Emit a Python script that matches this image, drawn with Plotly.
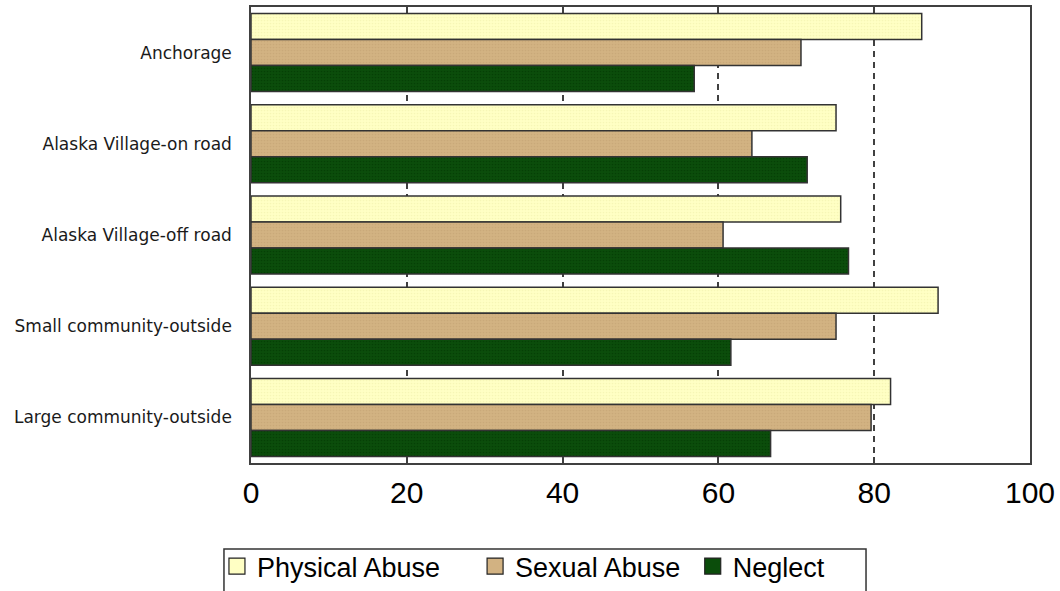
import plotly.graph_objects as go

categories = ["Anchorage", "Alaska Village-on road", "Alaska Village-off road",
              "Small community-outside", "Large community-outside"]
physical = [86.1, 75.1, 75.7, 88.2, 82.1]
sexual = [70.6, 64.3, 60.6, 75.1, 79.6]
neglect = [56.9, 71.4, 76.7, 61.6, 66.7]
x_ticks = [0, 20, 40, 60, 80, 100]
legend_names = ["Physical Abuse", "Sexual Abuse", "Neglect"]
legend_pad = [4, 1, 0]

series = [
    (physical, "#FFFFC4", "#EDEDA8"),
    (sexual, "#D2B282", "#BFA070"),
    (neglect, "#0B4D0B", "#003300"),
]

fig = go.Figure()
for name, (vals, col, dot) in zip(legend_names, series):
    fig.add_trace(go.Bar(
        y=categories, x=vals, name=name, orientation="h", showlegend=False,
        marker=dict(color=col, line=dict(color="#333333", width=1.5),
                    pattern=dict(shape=".", size=3, solidity=0.25, fgcolor=dot)),
    ))
# legend entries with larger square swatches
for name, pad, (vals, col, dot) in zip(legend_names, legend_pad, series):
    fig.add_trace(go.Scatter(
        x=[None], y=[None], mode="markers", name=name + "\u00a0" * pad,
        marker=dict(symbol="square", size=16, color=col,
                    line=dict(color="#222222", width=1.2)),
    ))

fig.update_layout(
    width=1060, height=591,
    margin=dict(l=251, r=30, t=7, b=128, autoexpand=False),
    paper_bgcolor="white", plot_bgcolor="white",
    barmode="group", bargap=0.145, bargroupgap=0,
    showlegend=True,
    legend=dict(
        orientation="h", x=-0.0437, y=-0.2807, xanchor="left", yanchor="bottom",
        font=dict(family="Liberation Sans, Arial", size=27, color="black"),
        borderwidth=0, bgcolor="rgba(0,0,0,0)",
    ),
    shapes=[dict(type="rect", xref="paper", yref="paper",
                 x0=-0.0347, x1=0.7895, y0=-0.1886, y1=-0.40,
                 line=dict(color="#333333", width=1.5), fillcolor="rgba(0,0,0,0)")],
    xaxis=dict(
        range=[0, 100], tickvals=x_ticks, ticktext=[str(v) for v in x_ticks],
        showgrid=True, gridcolor="#404040", gridwidth=1.5, griddash="6px,5px",
        showline=True, linecolor="#404040", linewidth=1.5, mirror=True,
        ticks="inside", ticklen=6, tickcolor="#404040", tickwidth=1.5,
        tickfont=dict(family="Liberation Sans, Arial", size=30, color="black"),
        ticklabelstandoff=2, zeroline=False,
    ),
    yaxis=dict(
        categoryorder="array", categoryarray=categories, autorange="reversed",
        showgrid=False, showline=True, linecolor="#404040", linewidth=1.5, mirror=True,
        ticks="", tickfont=dict(family="DejaVu Sans", size=17, color="#1a1a1a"),
        ticklabelstandoff=14,
    ),
)

fig.write_html("out.html")
